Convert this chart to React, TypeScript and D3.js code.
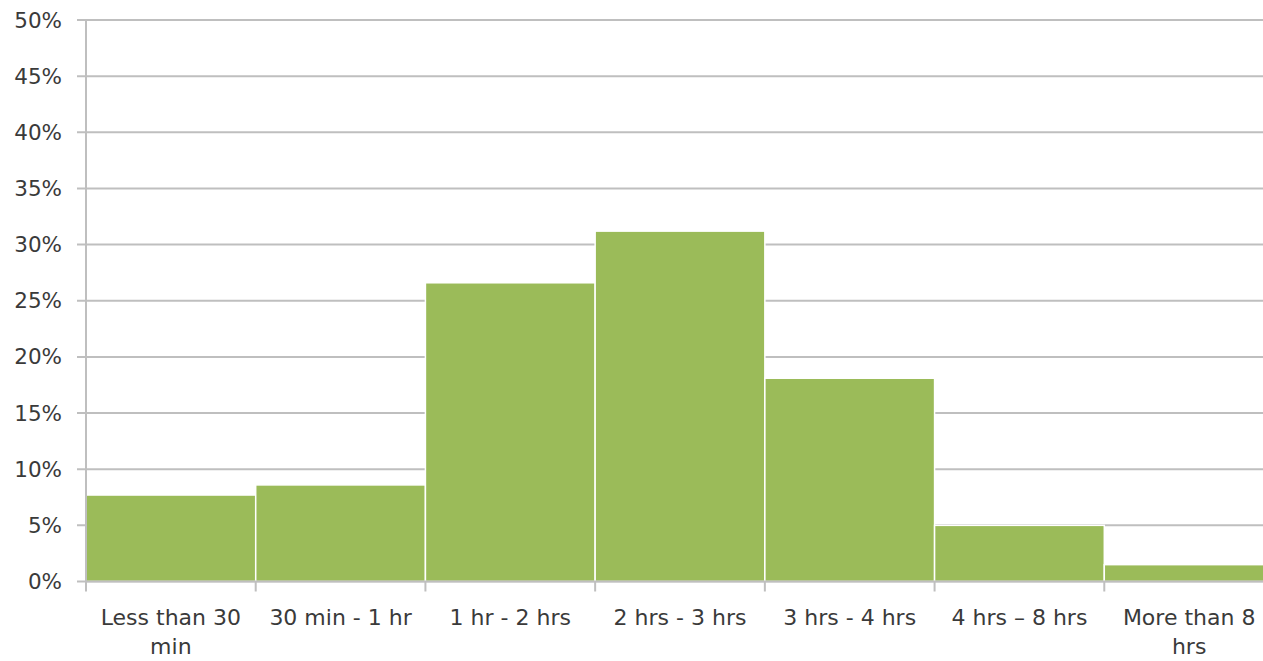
import React from "react";
import * as d3 from "d3";

// Share of respondents by time spent
const categories: string[][] = [
  ["Less than 30", "min"],
  ["30 min - 1 hr"],
  ["1 hr - 2 hrs"],
  ["2 hrs - 3 hrs"],
  ["3 hrs - 4 hrs"],
  ["4 hrs \u2013 8 hrs"],
  ["More than 8", "hrs"],
];
const categoryKeys: string[] = categories.map((c) => c.join(" "));
const shares: number[] = [7.7, 8.6, 26.6, 31.2, 18.1, 5.0, 1.5];
const yTicks: number[] = [0, 5, 10, 15, 20, 25, 30, 35, 40, 45, 50];

const W = 1263;
const H = 661;
const margin = { left: 86, top: 20, bottom: 79 };
const plotRight = 1274;

export default function App() {
  const x = d3
    .scaleBand<string>()
    .domain(categoryKeys)
    .range([margin.left, plotRight])
    .paddingInner(0)
    .paddingOuter(0);
  const y = d3
    .scaleLinear()
    .domain([0, 50])
    .range([H - margin.bottom - 0.5, margin.top]);

  const font = "'DejaVu Sans', Verdana, sans-serif";
  const textColor = "#3a3a3a";
  const gridColor = "#bfbfbf";

  return (
    <svg
      width={W}
      height={H}
      style={{ position: "absolute", left: 0, top: 0, background: "#fff" }}
      fontFamily={font}
    >
      {/* horizontal gridlines with short left ticks */}
      {yTicks.map((t) => (
        <g key={t}>
          <line
            x1={77}
            x2={W}
            y1={y(t)}
            y2={y(t)}
            stroke={gridColor}
            strokeWidth={2}
          />
          <text
            x={62}
            y={y(t)}
            dy="0.35em"
            textAnchor="end"
            fontSize={21.5}
            fill={textColor}
          >
            {t}%
          </text>
        </g>
      ))}

      {/* bars */}
      {shares.map((v, i) => (
        <rect
          key={categoryKeys[i]}
          x={x(categoryKeys[i])!}
          y={y(v)}
          width={x.bandwidth()}
          height={y(0) - y(v)}
          fill="#9bbb59"
          stroke="#ffffff"
          strokeWidth={1.5}
        />
      ))}

      {/* y axis line */}
      <line
        x1={margin.left}
        x2={margin.left}
        y1={y(50)}
        y2={y(0) + 10}
        stroke={gridColor}
        strokeWidth={2}
      />
      {/* baseline */}
      <line
        x1={margin.left}
        x2={W}
        y1={y(0)}
        y2={y(0)}
        stroke={gridColor}
        strokeWidth={2}
      />

      {/* category boundary ticks */}
      {categoryKeys.map((k, i) =>
        i === 0 ? null : (
          <line
            key={k}
            x1={x(k)!}
            x2={x(k)!}
            y1={y(0)}
            y2={y(0) + 10}
            stroke={gridColor}
            strokeWidth={2}
          />
        )
      )}

      {/* category labels */}
      {categories.map((lines, i) => (
        <text
          key={categoryKeys[i]}
          x={x(categoryKeys[i])! + x.bandwidth() / 2}
          y={617}
          textAnchor="middle"
          fontSize={22}
          fill={textColor}
        >
          {lines.map((ln, j) => (
            <tspan
              key={j}
              x={x(categoryKeys[i])! + x.bandwidth() / 2}
              dy={j === 0 ? "0.35em" : 29}
            >
              {ln}
            </tspan>
          ))}
        </text>
      ))}
    </svg>
  );
}
